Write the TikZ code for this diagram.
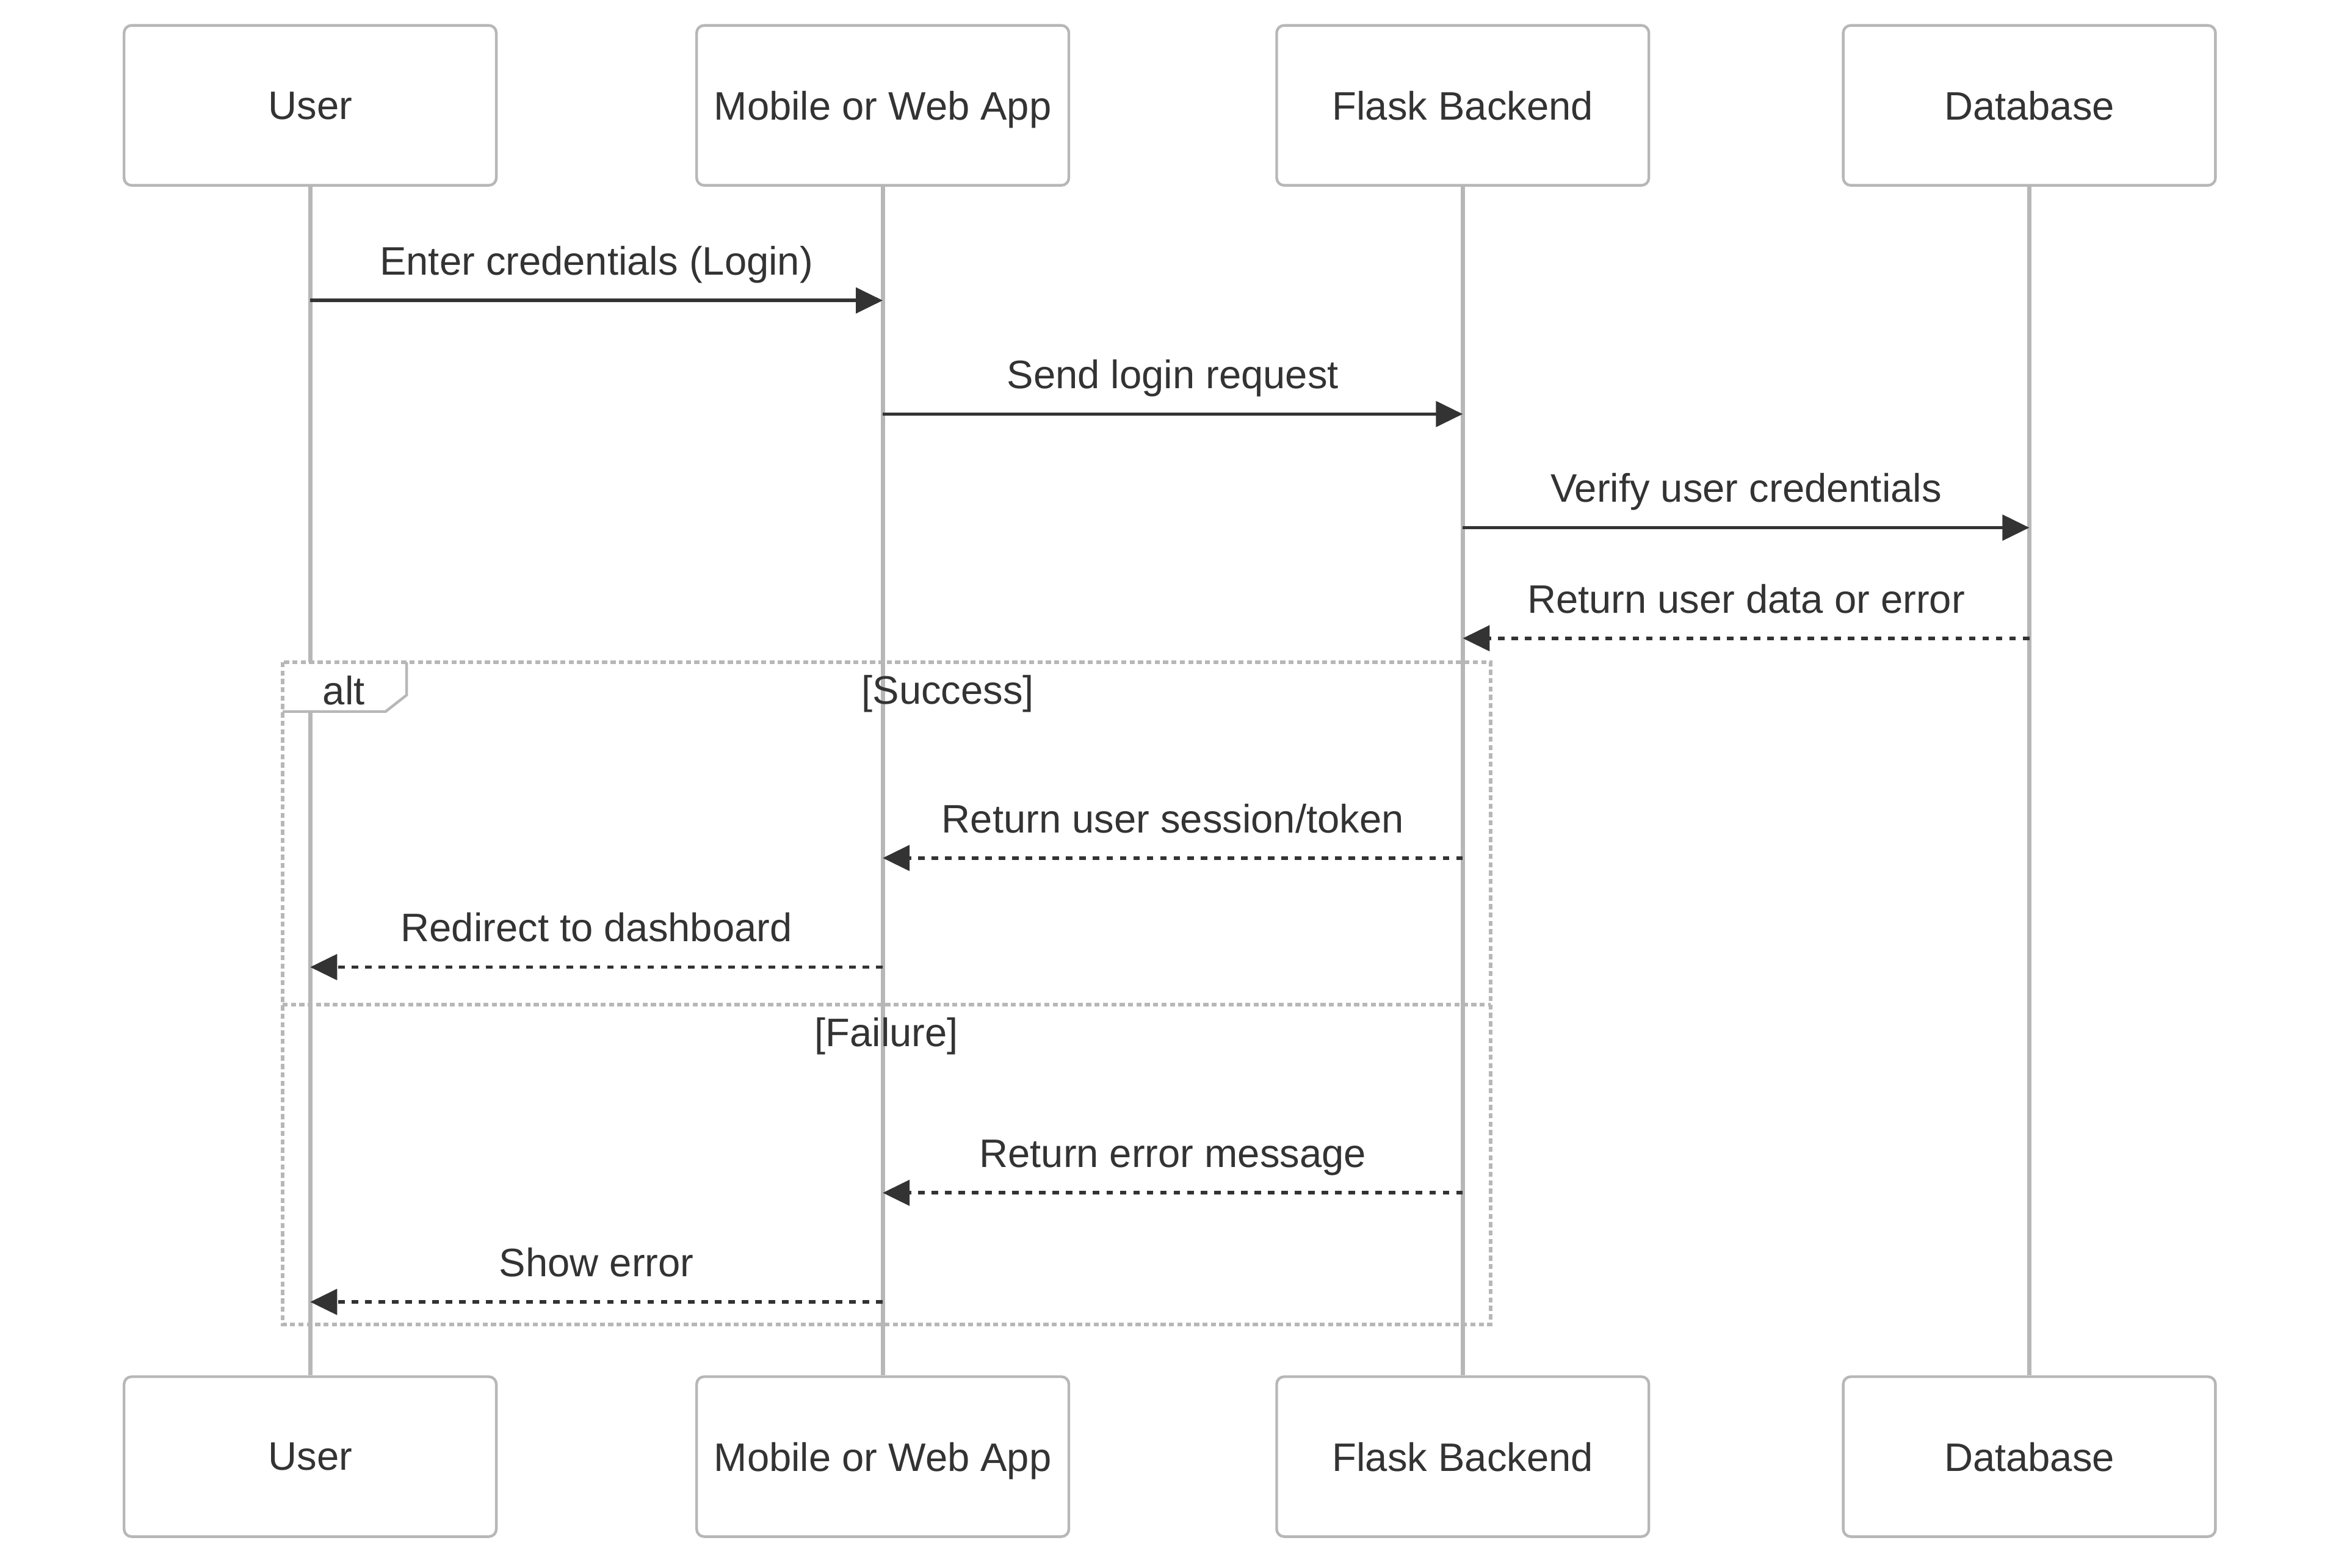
\documentclass[tikz,border=0pt]{standalone}
\usepackage{fontspec}
\setmainfont{Liberation Sans}
\usetikzlibrary{arrows.meta,backgrounds}
\definecolor{lineGray}{RGB}{183,183,183}
\definecolor{inkDark}{RGB}{51,51,51}

\tikzset{every picture/.style={line width=0.75pt},
  actorbox/.style={draw=lineGray, line width=0.9pt, fill=white, rounded corners=2.5pt,
    minimum width=124.5pt, minimum height=53.5pt, inner sep=0pt, text depth=0pt},
  lifeline/.style={draw=lineGray, line width=1.4pt},
  msgcall/.style={draw=inkDark, line width=1.15pt, -{Triangle[length=9pt,width=8.5pt]}},
  msgreply/.style={msgcall, dash pattern=on 2.2pt off 2.3pt},
  msglabel/.style={anchor=base},
  altframe/.style={draw=lineGray, line width=1.2pt, dash pattern=on 1.7pt off 1.1pt},
}

\begin{document}
\begin{tikzpicture}[x=0.5pt,y=0.5pt,yscale=-1,
  every node/.style={text=inkDark, font=\fontsize{13.3}{16}\selectfont}]
\useasboundingbox (0,0) rectangle (1568,1049);

%Actors (top row)
\node[actorbox] (userTop) at (207.5,70.5) {User};
\node[actorbox] (appTop) at (590.5,70.5) {Mobile or Web App};
\node[actorbox] (flaskTop) at (978.5,70.5) {Flask Backend};
\node[actorbox] (dbTop) at (1357.5,70.5) {Database};
%Actors (bottom row)
\node[actorbox] (userBot) at (207.5,974.5) {User};
\node[actorbox] (appBot) at (590.5,974.5) {Mobile or Web App};
\node[actorbox] (flaskBot) at (978.5,974.5) {Flask Backend};
\node[actorbox] (dbBot) at (1357.5,974.5) {Database};

%Lifelines
\begin{scope}[on background layer]
\draw[lifeline] (userTop) -- (userBot);
\draw[lifeline] (appTop) -- (appBot);
\draw[lifeline] (flaskTop) -- (flaskBot);
\draw[lifeline] (dbTop) -- (dbBot);
\end{scope}

%Alt frame
\coordinate (altNW) at (189,443);
\coordinate (altSE) at (997,886);
\fill[white] (altNW) -- (272,443) -- (272,465) -- (258,476) -- (189,476) -- cycle;
\draw[altframe] (altNW) rectangle (altSE);
\draw[altframe] (altNW |- 0,672) -- (altSE |- 0,672);
\draw[draw=lineGray, line width=0.9pt] (272,443) -- (272,465) -- (258,476) -- (189,476);

% Text Node
\node (altTag) at (230,462) {alt};
% Text Node
\node (okGuard) at (634,464) {[Success]};
% Text Node
\node (failGuard) at (593,693) {[Failure]};

%Messages
\foreach \from/\to/\yy/\txt/\kind in {
  userTop/appTop/201/{Enter credentials (Login)}/msgcall,
  appTop/flaskTop/277/{Send login request}/msgcall,
  flaskTop/dbTop/353/{Verify user credentials}/msgcall,
  dbTop/flaskTop/427/{Return user data or error}/msgreply,
  flaskTop/appTop/574/{Return user session/token}/msgreply,
  appTop/userTop/647/{Redirect to dashboard}/msgreply,
  flaskTop/appTop/798/{Return error message}/msgreply,
  appTop/userTop/871/{Show error}/msgreply}
{
  \pgfmathsetmacro\ly{\yy-17}
  \draw[\kind] (\from |- 0,\yy) -- (\to |- 0,\yy);
  \path (\from |- 0,\ly) -- node[msglabel] {\txt} (\to |- 0,\ly);
}

\end{tikzpicture}
\end{document}
